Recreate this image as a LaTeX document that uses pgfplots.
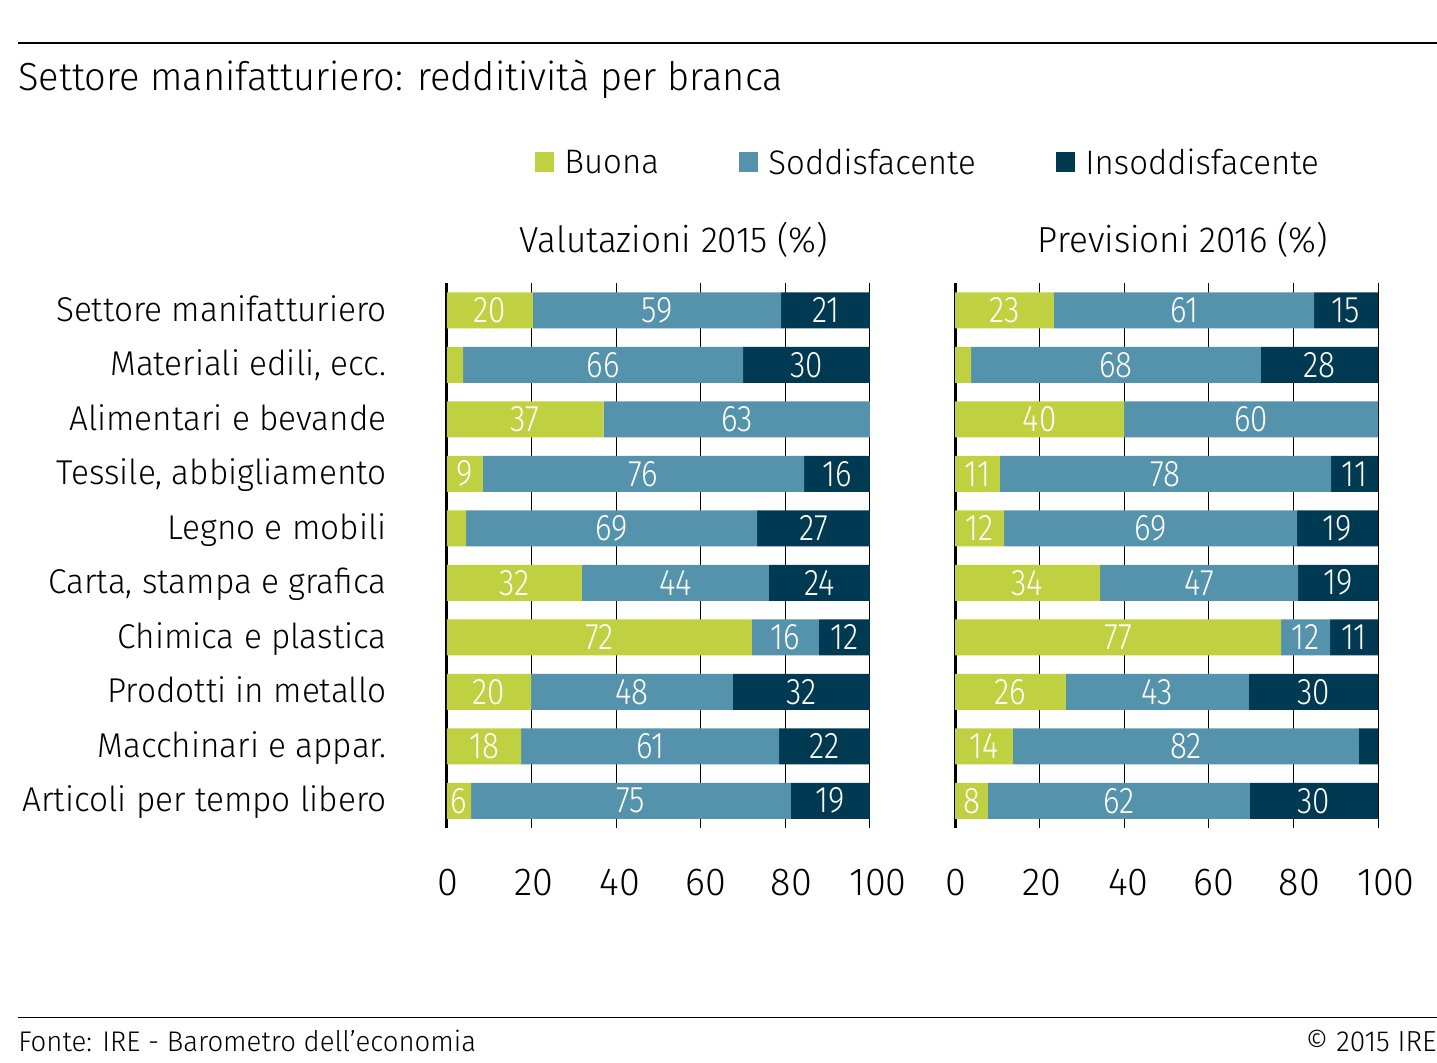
\documentclass[border=0pt]{standalone}
\usepackage{fontspec}
\IfFontExistsTF{Fira Sans Light}{%
  \setmainfont{Fira Sans Light}[FakeStretch=0.97]%
  \newfontfamily\numfont{Fira Sans Light}[FakeStretch=0.85]}{%
  \setmainfont{Fira Sans}[FakeStretch=0.97]%
  \newfontfamily\numfont{Fira Sans}[FakeStretch=0.85]}
\usepackage{pgfplots}
\usepackage{pgfplotstable}
\pgfplotsset{compat=1.18}
\definecolor{cB}{HTML}{BFD141}
\definecolor{cS}{HTML}{5593AD}
\definecolor{cI}{HTML}{003A52}

% segment lengths (%), 2015
\pgfplotstableread{
idx b s i
0 20.3 58.7 21.0
1 3.8 66.2 30.0
2 37.0 63.0 0.0
3 8.5 75.9 15.6
4 4.5 68.8 26.7
5 31.9 44.2 23.9
6 72.1 15.8 12.1
7 19.9 47.7 32.4
8 17.5 61.0 21.5
9 5.7 75.6 18.7
}\tabA
% segment lengths (%), 2016
\pgfplotstableread{
idx b s i
0 23.4 61.5 15.1
1 3.8 68.5 27.7
2 40.0 60.0 0.0
3 10.6 78.3 11.1
4 11.6 69.3 19.1
5 34.3 46.8 18.9
6 77.1 11.6 11.3
7 26.2 43.3 30.5
8 13.7 81.8 4.5
9 7.8 61.9 30.3
}\tabB
% value labels at segment centres
\pgfplotstableread{
x y lab
10.15 0 20
49.65 0 59
89.5 0 21
36.9 1 66
85.0 1 30
18.5 2 37
68.5 2 63
4.25 3 9
46.45 3 76
92.2 3 16
38.9 4 69
86.65 4 27
15.95 5 32
54.0 5 44
88.05 5 24
36.05 6 72
80.0 6 16
93.95 6 12
9.95 7 20
43.75 7 48
83.8 7 32
8.75 8 18
48.0 8 61
89.25 8 22
2.85 9 6
43.5 9 75
90.65 9 19
}\labA
\pgfplotstableread{
x y lab
11.7 0 23
54.15 0 61
92.45 0 15
38.05 1 68
86.15 1 28
20.0 2 40
70.0 2 60
5.3 3 11
49.75 3 78
94.45 3 11
5.8 4 12
46.25 4 69
90.45 4 19
17.15 5 34
57.7 5 47
90.55 5 19
38.55 6 77
82.9 6 12
94.35 6 11
13.1 7 26
47.85 7 43
84.75 7 30
6.85 8 14
54.6 8 82
3.9 9 8
38.75 9 62
84.85 9 30
}\labB

\pgfplotsset{
  geom/.style={scale only axis, width=211.5pt, height=272.5pt,
    xmin=0, xmax=100, ymin=-0.5, ymax=9.5, y dir=reverse, clip=false},
  panel/.style={geom,
    xbar stacked, bar width=18pt,
    axis x line*=bottom, x axis line style={draw=none},
    axis y line*=left, y axis line style={line width=1.5pt, black},
    xmajorgrids, grid style={black, line width=0.5pt},
    xtick={0,20,40,60,80,100},
    xticklabels={\hspace*{1pt}0,\hspace*{2.5pt}20,\hspace*{4pt}40,\hspace*{5pt}60,\hspace*{6pt}80,\hspace*{8pt}100},
    major tick length=0pt,
    ytick={0,1,2,3,4,5,6,7,8,9},
    xticklabel style={anchor=center, inner sep=0pt, yshift=-27.5pt, font=\fontsize{19.5}{20}\selectfont},
    yticklabel style={anchor=base east, inner sep=0pt, xshift=-30pt, yshift=-5.5pt, font=\fontsize{17.2}{18}\selectfont},
  },
  labs/.style={geom, axis lines=none, xtick=\empty, ytick=\empty},
}

\begin{document}
\begin{tikzpicture}
\path[use as bounding box] (0,0) rectangle (718.5pt,-531.5pt);
\draw[line width=0.6pt] (9pt,-21.5pt) -- (718.5pt,-21.5pt);
\node[anchor=base west, inner sep=0pt, font=\fontsize{19.6}{22}\selectfont] at (9pt,-45.5pt) {Settore manifatturiero: redditività per branca};

\begin{axis}[panel, at={(223.5pt,-414pt)}, anchor=south west,
  yticklabels={Settore manifatturiero, {Materiali edili, ecc.}, Alimentari e bevande, {Tessile, abbigliamento}, Legno e mobili, {Carta, stampa e grafica}, Chimica e plastica, Prodotti in metallo, Macchinari e appar., Articoli per tempo libero},
]
\addplot[fill=cB, draw=none] table[x=b, y=idx] {\tabA};
\addplot[fill=cS, draw=none] table[x=s, y=idx] {\tabA};
\addplot[fill=cI, draw=none] table[x=i, y=idx] {\tabA};
\end{axis}
\begin{axis}[labs, at={(223.5pt,-414pt)}, anchor=south west]
\addplot[draw=none, mark=none, nodes near coords, point meta=explicit symbolic,
  every node near coord/.append style={anchor=center, inner sep=0pt, text=white, font=\numfont\fontsize{18.5}{20}\selectfont}]
  table[x=x, y=y, meta=lab] {\labA};
\end{axis}

\begin{axis}[panel, at={(477.5pt,-414pt)}, anchor=south west, yticklabels={}]
\addplot[fill=cB, draw=none] table[x=b, y=idx] {\tabB};
\addplot[fill=cS, draw=none] table[x=s, y=idx] {\tabB};
\addplot[fill=cI, draw=none] table[x=i, y=idx] {\tabB};
\end{axis}
\begin{axis}[labs, at={(477.5pt,-414pt)}, anchor=south west]
\addplot[draw=none, mark=none, nodes near coords, point meta=explicit symbolic,
  every node near coord/.append style={anchor=center, inner sep=0pt, text=white, font=\numfont\fontsize{18.5}{20}\selectfont}]
  table[x=x, y=y, meta=lab] {\labB};
\end{axis}

% legend
\fill[cB] (267.5pt,-76pt) rectangle (277pt,-86pt);
\node[anchor=west, inner sep=0pt, font=\fontsize{17}{18}\selectfont] at (282pt,-81pt) {Buona};
\fill[cS] (369.5pt,-76pt) rectangle (379pt,-86pt);
\node[anchor=west, inner sep=0pt, font=\fontsize{17}{18}\selectfont] at (384pt,-81pt) {Soddisfacente};
\fill[cI] (528pt,-76pt) rectangle (537.5pt,-86pt);
\node[anchor=west, inner sep=0pt, font=\fontsize{17}{18}\selectfont] at (542.5pt,-81pt) {Insoddisfacente};

\node[anchor=center, inner sep=0pt, font=\fontsize{18.1}{19}\selectfont] at (337pt,-120pt) {Valutazioni 2015 (\%)};
\node[anchor=center, inner sep=0pt, font=\fontsize{18.1}{19}\selectfont] at (591.5pt,-120pt) {Previsioni 2016 (\%)};

\draw[line width=0.5pt] (9pt,-509pt) -- (718.5pt,-509pt);
\node[anchor=base west, inner sep=0pt, font=\fontsize{14.2}{16}\selectfont] at (9pt,-526pt) {Fonte: IRE - Barometro dell'economia};
\node[anchor=base east, inner sep=0pt, font=\fontsize{14.5}{16}\selectfont] at (718.5pt,-526pt) {© 2015 IRE};
\end{tikzpicture}
\end{document}
